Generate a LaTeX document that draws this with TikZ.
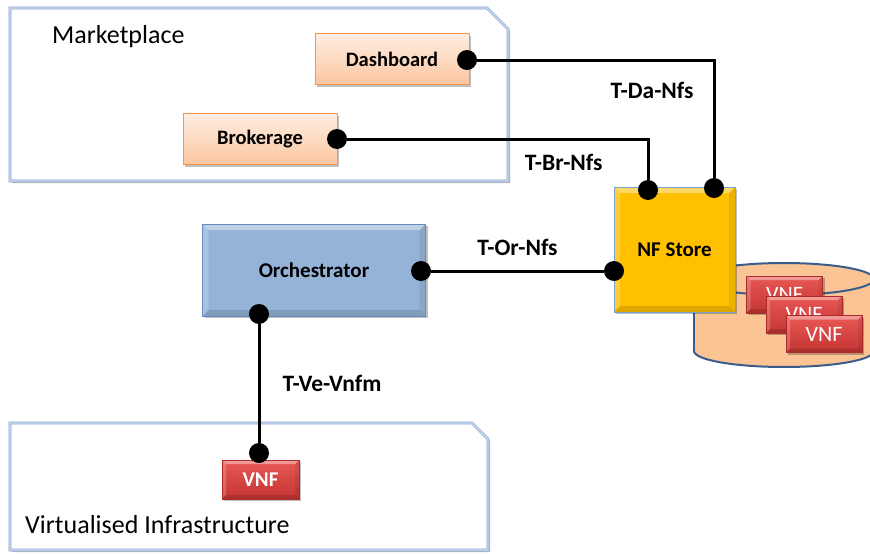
\documentclass[tikz,border=0pt]{standalone}
\usepackage{fontspec}
\setmainfont{Carlito}
\usetikzlibrary{shadows}

\definecolor{frameblue}{RGB}{125,157,205}
\definecolor{frameinner}{RGB}{214,225,242}
\definecolor{peachtop}{RGB}{254,238,226}
\definecolor{peachbot}{RGB}{251,198,160}
\definecolor{peachline}{RGB}{247,150,70}
\definecolor{orchfill}{RGB}{149,179,215}
\definecolor{orchline}{RGB}{100,140,192}
\definecolor{storefill}{RGB}{255,192,0}
\definecolor{storeline}{RGB}{120,160,210}
\definecolor{cylfill}{RGB}{250,196,148}
\definecolor{cylline}{RGB}{56,93,138}
\definecolor{vnftop}{RGB}{232,88,85}
\definecolor{vnfbot}{RGB}{196,52,50}
\definecolor{vnfline}{RGB}{170,45,43}

\tikzset{
  shade box/.style={drop shadow={shadow xshift=2pt,shadow yshift=-2pt,fill=black,opacity=.25}},
  bevel/.style={path picture={
    \path (path picture bounding box.north west) coordinate (bnw)
          (path picture bounding box.north east) coordinate (bne)
          (path picture bounding box.south east) coordinate (bse)
          (path picture bounding box.south west) coordinate (bsw);
    \fill[white,opacity=.4] (bnw) -- (bne) -- ([shift={(-#1,-#1)}]bne) -- ([shift={(#1,-#1)}]bnw) -- cycle;
    \fill[white,opacity=.2] (bnw) -- ([shift={(#1,-#1)}]bnw) -- ([shift={(#1,#1)}]bsw) -- (bsw) -- cycle;
    \fill[black,opacity=.13] (bsw) -- (bse) -- ([shift={(-#1,#1)}]bse) -- ([shift={(#1,#1)}]bsw) -- cycle;
    \fill[black,opacity=.07] (bne) -- (bse) -- ([shift={(-#1,#1)}]bse) -- ([shift={(-#1,-#1)}]bne) -- cycle;
  }},
  bevel/.default=5pt,
  area/.style={draw=frameblue,double=frameinner,double distance=1.2pt,line width=.8pt,fill=white,shade box},
  peach/.style={draw=peachline,line width=1pt,top color=peachtop,bottom color=peachbot,shade box,
    minimum width=154pt,minimum height=51pt,font=\bfseries\fontsize{20.5}{24}\selectfont},
  orch/.style={draw=orchline,line width=1pt,fill=orchfill,bevel=6pt,shade box,
    minimum width=223pt,minimum height=92pt,font=\bfseries\fontsize{21}{25}\selectfont},
  store/.style={draw=storeline,line width=1pt,fill=storefill,bevel=6pt,shade box,
    minimum width=121pt,minimum height=125pt,font=\bfseries\fontsize{21}{25}\selectfont},
  vnf/.style={draw=vnfline,line width=.8pt,top color=vnftop,bottom color=vnfbot,bevel=4pt,shade box,
    minimum width=76pt,minimum height=37pt,text=white,font=\fontsize{22}{26}\selectfont},
  dot/.style={circle,fill=black,inner sep=0pt,minimum size=20pt},
  wire/.style={line width=3pt},
  lbl/.style={inner sep=0pt,font=\bfseries\fontsize{23.5}{27}\selectfont},
}

\begin{document}
\begin{tikzpicture}[x=1pt,y=-1pt]
  \clip (0,0) rectangle (870,554);

  \draw[area] (10,8) -- (487,8) -- (508,29) -- (508,181) -- (10,181) -- cycle;
  \draw[area] (10,423) -- (472,423) -- (488,439) -- (488,550) -- (10,550) -- cycle;
  \node[anchor=base west,inner sep=0pt,font=\fontsize{26}{30}\selectfont] (mp) at (52,43) {Marketplace};
  \node[anchor=base west,inner sep=0pt,font=\fontsize{26}{30}\selectfont] (vi) at (25,533) {Virtualised Infrastructure};

  \filldraw[fill=cylfill,draw=cylline,line width=2pt] (784,351) ellipse [x radius=90pt,y radius=16pt];
  \fill[cylfill] (694,279) rectangle (874,351);
  \draw[cylline,line width=2pt] (694,279) -- (694,351);
  \filldraw[fill=cylfill,draw=cylline,line width=2pt] (784,279) ellipse [x radius=90pt,y radius=16pt];

  \node[peach] (dash) at (392,59) {Dashboard};
  \node[peach] (brok) at (260,139) {Brokerage};
  \node[orch] (orch) at (314,270) {Orchestrator};
  \node[store] (nfs) at (674.5,249.5) {NF Store};
  \node[vnf] (v1) at (784.5,294.5) {VNF};
  \node[vnf] (v2) at (804,314.5) {VNF};
  \node[vnf] (v3) at (824,334) {VNF};
  \node[vnf,minimum width=77pt,minimum height=39pt,font=\bfseries\fontsize{21}{25}\selectfont] (vnf) at (260.5,479.5) {VNF};

  \node[dot] (d1) at (467,60) {};
  \node[dot] (b1) at (337,139) {};
  \node[dot] (o1) at (421,271) {};
  \node[dot] (o2) at (259,314) {};
  \node[dot] (s1) at (648,190) {};
  \node[dot] (s2) at (714,188) {};
  \node[dot] (s3) at (614,271) {};
  \node[dot] (v0) at (259,453) {};

  \draw[wire] (d1) -| (s2) node[lbl,pos=.627,left=19pt] {T-Da-Nfs};
  \draw[wire] (b1) -| (s1) node[lbl,pos=.793,left=44pt] {T-Br-Nfs};
  \draw[wire] (o1) -- (s3) node[lbl,midway,above=14pt] {T-Or-Nfs};
  \draw[wire] (o2) -- (v0) node[lbl,midway,right=22pt] {T-Ve-Vnfm};
\end{tikzpicture}
\end{document}
